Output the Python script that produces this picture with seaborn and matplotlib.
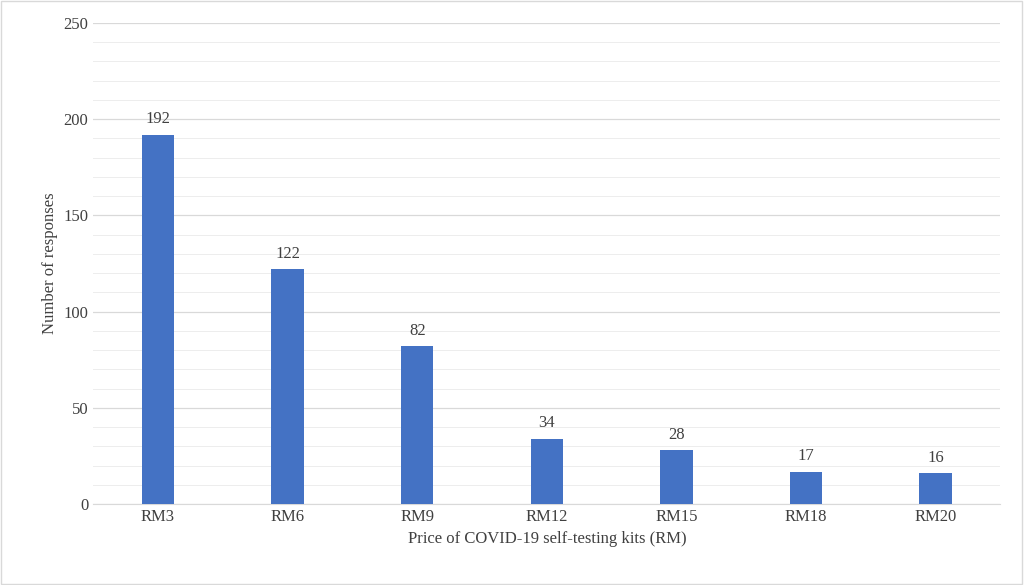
import matplotlib
matplotlib.use("Agg")
import matplotlib.pyplot as plt
import seaborn as sns
import pandas as pd

prices = ["RM3", "RM6", "RM9", "RM12", "RM15", "RM18", "RM20"]
responses = [192, 122, 82, 34, 28, 17, 16]

df = pd.DataFrame({"price": prices, "responses": responses})

plt.rcParams["font.family"] = "Liberation Serif"
fig = plt.figure(figsize=(10.24, 5.85), dpi=100)
ax = fig.add_axes([0.091, 0.138, 0.886, 0.823])

sns.barplot(data=df, x="price", y="responses", color="#4472C4", width=0.25,
            saturation=1, ax=ax, zorder=3)

ax.set_ylim(0, 250)
ax.set_yticks(range(0, 251, 50))
ax.set_yticks(range(0, 251, 10), minor=True)
ax.grid(axis="y", which="major", color="#D9D9D9", lw=0.9, zorder=0)
ax.grid(axis="y", which="minor", color="#EDEDED", lw=0.7, zorder=0)
ax.tick_params(which="both", length=0, labelsize=12, colors="#404040")
for s in ["top", "right", "left"]:
    ax.spines[s].set_visible(False)
ax.spines["bottom"].set_color("#D9D9D9")

for i, v in enumerate(responses):
    ax.text(i, v + 4, str(v), ha="center", va="bottom", fontsize=12, color="#404040")

ax.set_xlabel("Price of COVID-19 self-testing kits (RM)", fontsize=12, color="#404040")
ax.set_ylabel("Number of responses", fontsize=12, color="#404040")

fig.patches.append(plt.Rectangle((0.001, 0.002), 0.997, 0.996, transform=fig.transFigure,
                                 fill=False, edgecolor="#D9D9D9", lw=1))
fig.savefig("out.png", dpi=100)
